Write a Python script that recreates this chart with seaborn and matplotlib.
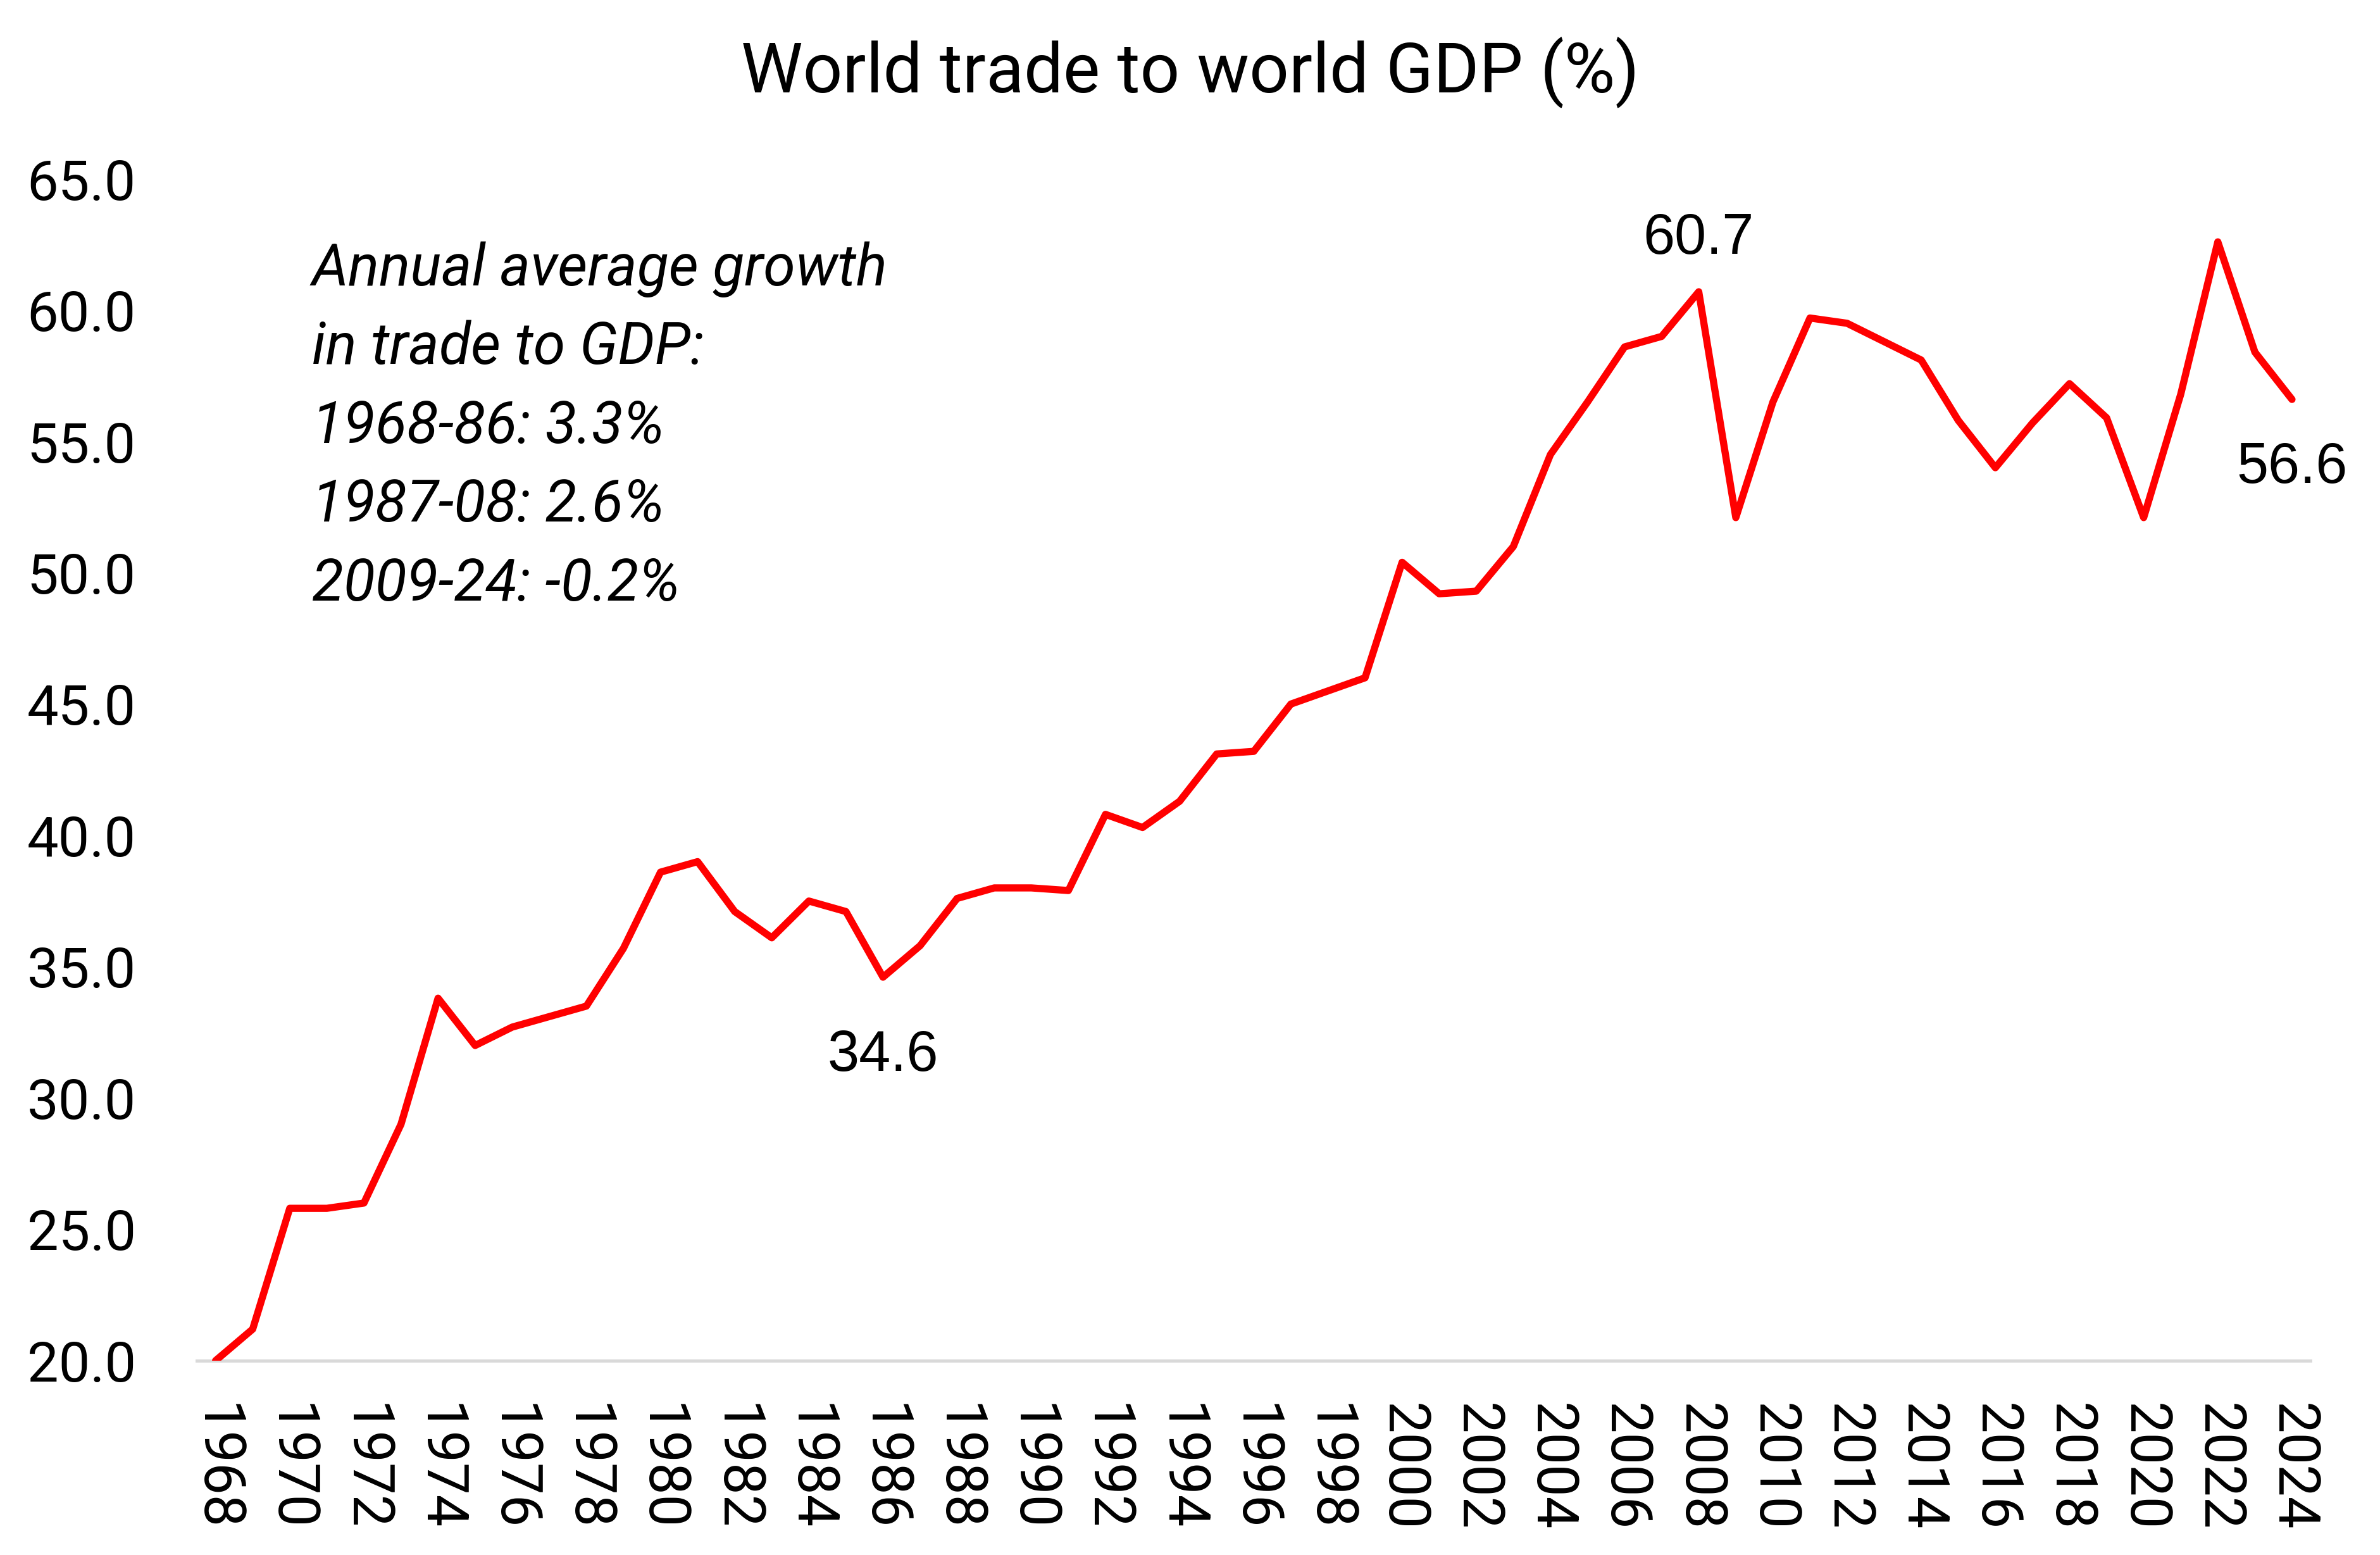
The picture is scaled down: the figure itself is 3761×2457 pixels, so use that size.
"""World trade to world GDP (%) line chart"""
import matplotlib
matplotlib.use("Agg")
import matplotlib.pyplot as plt
import seaborn as sns
import pandas as pd

# Years and trade-to-GDP ratio (%)
years = list(range(1968, 2025))
trade_to_gdp = [
    20.0, 21.2, 25.8, 25.8, 26.0, 29.0, 33.8, 32.0, 32.7, 33.1,
    33.5, 35.7, 38.6, 39.0, 37.1, 36.1, 37.5, 37.1, 34.6, 35.8,
    37.6, 38.0, 38.0, 37.9, 40.8, 40.3, 41.3, 43.1, 43.2, 45.0,
    45.5, 46.0, 50.4, 49.2, 49.3, 51.0, 54.5, 56.5, 58.6, 59.0,
    60.7, 52.1, 56.5, 59.7, 59.5, 58.8, 58.1, 55.8, 54.0, 55.7,
    57.2, 55.9, 52.1, 56.8, 62.6, 58.4, 56.6,
]
y_ticks = [20, 25, 30, 35, 40, 45, 50, 55, 60, 65]
x_ticks = list(range(1968, 2025, 2))

title = "World trade to world GDP (%)"
note_lines = [
    "Annual average growth",
    "in trade to GDP:",
    "1968-86: 3.3%",
    "1987-08: 2.6%",
    "2009-24: -0.2%",
]
# (year, label, dy in data units)
point_labels = [(1986, "34.6", -3.0), (2008, "60.7", 2.0), (2024, "56.6", -2.6)]

df = pd.DataFrame({"year": years, "value": trade_to_gdp})

sns.set_theme(style="white")
plt.rcParams["font.family"] = ["Roboto", "DejaVu Sans"]

fig = plt.figure(figsize=(15.671, 10.2375), dpi=240)
ax = fig.add_axes([0.0828, 0.125, 0.888, 0.760])

sns.lineplot(data=df, x="year", y="value", color="#FF0000", linewidth=3.4, ax=ax)

ax.set_xlim(1967.5, 2024.5)
ax.set_ylim(20, 65)
ax.set_yticks(y_ticks)
ax.set_yticklabels([f"{v:.1f}" for v in y_ticks])
ax.set_xticks(x_ticks)
ax.set_xticklabels([str(v) for v in x_ticks], rotation=-90, va="top", ha="center")
ax.tick_params(axis="both", length=0, labelsize=27, colors="black")
ax.tick_params(axis="x", pad=20)
ax.tick_params(axis="y", pad=29, labelsize=26.5)
ax.set_xlabel("")
ax.set_ylabel("")

for side in ["left", "right", "top"]:
    ax.spines[side].set_visible(False)
ax.spines["bottom"].set_color("#D9D9D9")
ax.spines["bottom"].set_linewidth(1.5)
ax.spines["bottom"].set_zorder(0)

fig.text(0.5, 0.953, title, ha="center", va="center", fontsize=33, color="black")

# growth note
for i, line in enumerate(note_lines):
    ax.text(1970.6, 61.55 - i * 3.0, line, ha="left", va="center",
            fontsize=27.5, style="italic", color="black")

# data labels
for yr, lab, dy in point_labels:
    val = trade_to_gdp[years.index(yr)]
    ax.text(yr, val + dy, lab, ha="center", va="center", fontsize=27,
            family=["Liberation Sans", "DejaVu Sans"], color="black")

plt.savefig("out.png", dpi=240)
